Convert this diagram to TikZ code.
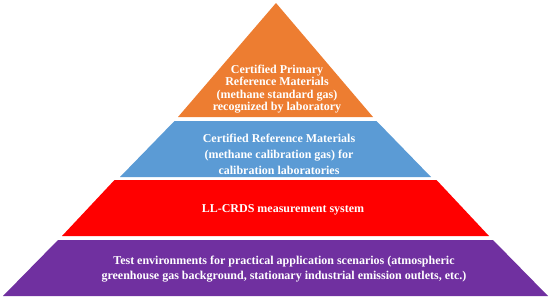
\documentclass[tikz,border=0pt]{standalone}
\usepackage{fontspec}
\setmainfont{Liberation Serif}
\usetikzlibrary{positioning}
\definecolor{tierorange}{HTML}{ED7D31}
\definecolor{tierblue}{HTML}{5B9BD5}
\definecolor{tierred}{HTML}{FF0000}
\definecolor{tierpurple}{HTML}{7030A0}

\begin{document}
\begin{tikzpicture}[x=1pt, y=-1pt, line join=round,
    tiertext/.style={text=white, align=center, inner sep=0pt,
        font=\bfseries\fontsize{12}{#1}\selectfont},
    tiertext/.default=15]
    \useasboundingbox (0,0) rectangle (550,300);

    % Top tier (triangle)
    \fill[tierorange] (276,3) -- (373,117) -- (178,117) -- cycle;

    % Lower tiers: top y / bottom y / top half-width / bottom half-width / colour
    \foreach \ytop/\ybot/\wtop/\wbot/\col in {
        121/177/101/155.5/tierblue,
        180/236/161/213.5/tierred,
        240/296/217.5/272.5/tierpurple}{
        \fill[\col] (275.5-\wtop,\ytop) -- (275.5+\wtop,\ytop)
            -- (275.5+\wbot,\ybot) -- (275.5-\wbot,\ybot) -- cycle;
    }

    % Tier labels
    \node[tiertext=12.5] (primary) at (277,89)
        {Certified Primary\\Reference Materials\\(methane standard gas)\\recognized by laboratory};
    \node[tiertext=16] (calib) at (279,154)
        {Certified Reference Materials\\(methane calibration gas) for\\calibration laboratories};
    \node[tiertext] (system) at (283,210) {LL-CRDS measurement system};
    \node[tiertext] (field) at (284,269)
        {Test environments for practical application scenarios (atmospheric\\greenhouse gas background, stationary industrial emission outlets, etc.)};

\end{tikzpicture}
\end{document}
